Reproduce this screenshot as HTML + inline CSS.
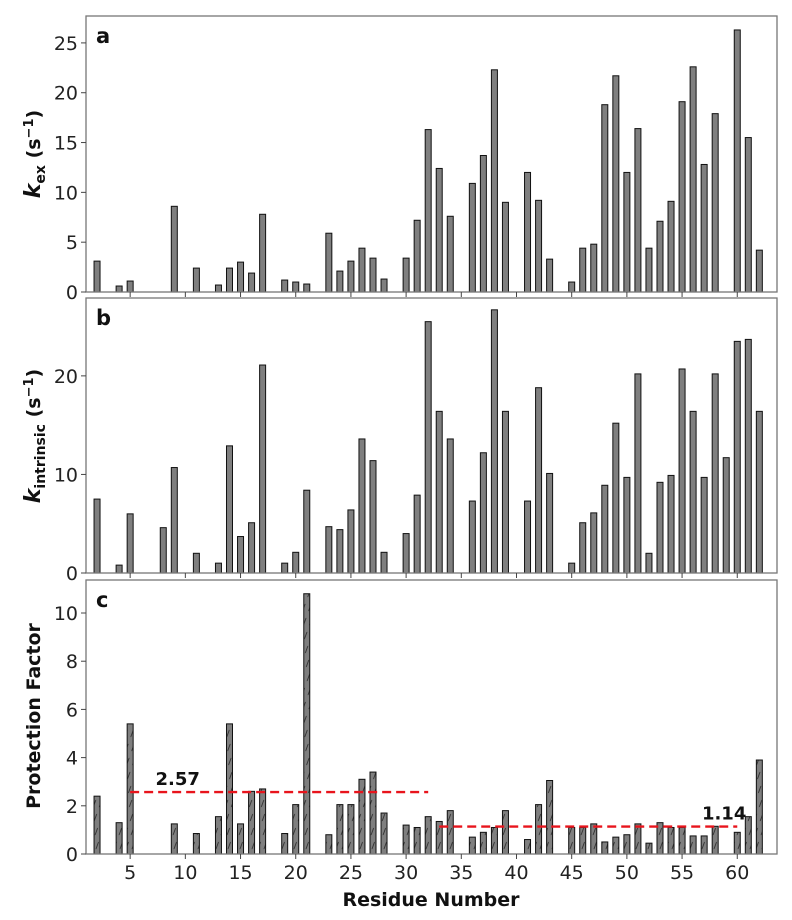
<!DOCTYPE html>
<html><head><meta charset="utf-8"><style>
body{margin:0;background:#fff}
svg{display:block;font-family:"DejaVu Sans","Liberation Sans",sans-serif}
</style></head><body>
<svg id="chart" width="792" height="920" viewBox="0 0 792 920">
<defs>
<pattern id="hatch" patternUnits="userSpaceOnUse" width="6" height="14" patternTransform="skewX(-20)">
<rect width="6" height="14" fill="#7f7f7f"/>
<line x1="3" y1="2" x2="3" y2="9" stroke="#222" stroke-width="0.8"/>
</pattern>
</defs>
</svg>
<script>
const residuesA=[2,4,5,9,11,13,14,15,16,17,19,20,21,23,24,25,26,27,28,30,31,32,33,34,36,37,38,39,41,42,43,45,46,47,48,49,50,51,52,53,54,55,56,57,58,60,61,62];
const kexValues=[3.1,0.6,1.1,8.6,2.4,0.7,2.4,3.0,1.9,7.8,1.2,1.0,0.8,5.9,2.1,3.1,4.4,3.4,1.3,3.4,7.2,16.3,12.4,7.6,10.9,13.7,22.3,9.0,12.0,9.2,3.3,1.0,4.4,4.8,18.8,21.7,12.0,16.4,4.4,7.1,9.1,19.1,22.6,12.8,17.9,26.3,15.5,4.2];
const residuesB=[2,4,5,8,9,11,13,14,15,16,17,19,20,21,23,24,25,26,27,28,30,31,32,33,34,36,37,38,39,41,42,43,45,46,47,48,49,50,51,52,53,54,55,56,57,58,59,60,61,62];
const kintValues=[7.5,0.8,6.0,4.6,10.7,2.0,1.0,12.9,3.7,5.1,21.1,1.0,2.1,8.4,4.7,4.4,6.4,13.6,11.4,2.1,4.0,7.9,25.5,16.4,13.6,7.3,12.2,26.7,16.4,7.3,18.8,10.1,1.0,5.1,6.1,8.9,15.2,9.7,20.2,2.0,9.2,9.9,20.7,16.4,9.7,20.2,11.7,23.5,23.7,16.4];
const residuesC=residuesA;
const pfValues=[2.4,1.3,5.4,1.25,0.85,1.55,5.4,1.25,2.6,2.7,0.85,2.05,10.8,0.8,2.05,2.05,3.1,3.4,1.7,1.2,1.1,1.55,1.35,1.8,0.7,0.9,1.1,1.8,0.6,2.05,3.05,1.1,1.1,1.25,0.5,0.7,0.8,1.25,0.45,1.3,1.1,1.1,0.75,0.75,1.15,0.9,1.55,3.9];
const xTicks=[5,10,15,20,25,30,35,40,45,50,55,60];
const ticksA=[0,5,10,15,20,25];
const ticksB=[0,10,20];
const ticksC=[0,2,4,6,8,10];
const avgLines=[{v:2.57,x0:5,x1:32,label:"2.57",lx:7.3},{v:1.14,x0:33,x1:60,label:"1.14",lx:56.8}];

const NS="http://www.w3.org/2000/svg";
const svg=document.getElementById('chart');
function mk(t,a,p){const e=document.createElementNS(NS,t);for(const k in a)e.setAttribute(k,a[k]);(p||svg).appendChild(e);return e;}
const L=86,R=777;
function xs(r){return L+(r-1.0)*(R-L)/62.6;}
const panels=[
 {name:'panel-a',top:16,bottom:292,ymax:27.7,res:residuesA,vals:kexValues,ticks:ticksA,letter:'a',fill:'#7f7f7f'},
 {name:'panel-b',top:298,bottom:573,ymax:27.9,res:residuesB,vals:kintValues,ticks:ticksB,letter:'b',fill:'#7f7f7f'},
 {name:'panel-c',top:580,bottom:854,ymax:11.37,res:residuesC,vals:pfValues,ticks:ticksC,letter:'c',fill:'url(#hatch)'}
];
panels.forEach((p,pi)=>{
 const g=mk('g',{});
 
 
 const ys=v=>p.bottom-v*(p.bottom-p.top)/p.ymax;
 p.res.forEach((r,i)=>{
  const b=mk('rect',{x:xs(r)-3,y:ys(p.vals[i]),width:6,height:p.bottom-ys(p.vals[i]),fill:p.fill,stroke:'#111','stroke-width':1},g);
  
  
 });
 const z=mk('line',{x1:L,x2:R,y1:p.bottom,y2:p.bottom,stroke:'#555','stroke-dasharray':'4,3','stroke-width':1},g);
 
 
 const fr=mk('rect',{x:L,y:p.top,width:R-L,height:p.bottom-p.top,fill:'none',stroke:'#777','stroke-width':1.3},g);
 
 
 p.ticks.forEach(t=>{
  mk('line',{x1:L-5,x2:L,y1:ys(t),y2:ys(t),stroke:'#444'},g);
  const tx=mk('text',{x:L-8,y:ys(t)+7,'text-anchor':'end','font-size':19,fill:'#222'},g);
  tx.textContent=t;
  
  
 });
 xTicks.forEach(t=>{
  mk('line',{x1:xs(t),x2:xs(t),y1:p.bottom,y2:p.bottom+5,stroke:'#444'},g);
  if(pi===2){
   const tx=mk('text',{x:xs(t),y:p.bottom+25,'text-anchor':'middle','font-size':19,fill:'#222'},g);
   tx.textContent=t;
   
   
  }
 });
 const lt=mk('text',{x:96,y:p.top+27,'font-size':21,'font-weight':'bold',fill:'#111'},g);
 lt.textContent=p.letter;
 
 
 if(pi===2){
  avgLines.forEach(a=>{
   const ln=mk('line',{x1:xs(a.x0),x2:xs(a.x1),y1:ys(a.v),y2:ys(a.v),stroke:'#e8141c','stroke-width':2.4,'stroke-dasharray':'9,5'},g);
   
   
   const at=mk('text',{x:xs(a.lx),y:ys(a.v)-7,'font-size':18,'font-weight':'bold',fill:'#111'},g);
   at.textContent=a.label;
   
   
  });
 }
});
function ylab(html,cy,name){
 const t=mk('text',{transform:`translate(40,${cy}) rotate(-90)`,'text-anchor':'middle','font-size':19,'font-weight':'bold',fill:'#111'});
 t.innerHTML=html;
 
 
}
ylab('<tspan font-style="italic" font-size="22">k</tspan><tspan font-size="14" dy="5">ex</tspan><tspan dy="-5">  (s</tspan><tspan font-size="13" dy="-7">−1</tspan><tspan dy="7">)</tspan>',154,'y-axis-title-kex');
ylab('<tspan font-style="italic" font-size="22">k</tspan><tspan font-size="14" dy="5">intrinsic</tspan><tspan dy="-5">  (s</tspan><tspan font-size="13" dy="-7">−1</tspan><tspan dy="7">)</tspan>',436,'y-axis-title-kintrinsic');
ylab('Protection Factor',716,'y-axis-title-pf');
const xt=mk('text',{x:431,y:906,'text-anchor':'middle','font-size':19,'font-weight':'bold',fill:'#111'});
xt.textContent='Residue Number';


</script>
</body></html>
